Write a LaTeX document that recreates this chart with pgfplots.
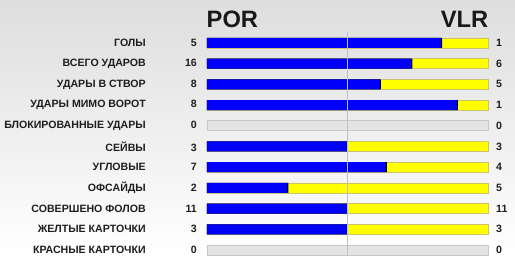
\documentclass[border=0pt]{standalone}
\usepackage{pgfplots}
\usepackage{pgfplotstable}
\pgfplotsset{compat=1.18}
\usepackage{fontspec}
\setmainfont{Liberation Sans}
\definecolor{barblue}{RGB}{0,0,250}
\definecolor{baryellow}{RGB}{255,255,0}
\definecolor{yelborder}{RGB}{205,195,110}
\definecolor{grayfill}{RGB}{228,228,228}
\definecolor{grayborder}{RGB}{200,200,200}
\definecolor{midline}{RGB}{185,192,204}
\definecolor{txt}{RGB}{30,30,30}

% row  por vlr  blue  black  yellow gray
\pgfplotstableread{
row por vlr blue  black yellow gray
0   5   1   0.833 0.837 1   nan
1   16  6   0.727 0.731 1   nan
2   8   5   0.615 0.619 1   nan
3   8   1   0.889 0.893 1   nan
4   0   0   nan   nan   nan 1
5   3   3   0.5   0.5   1   nan
6   7   4   0.636 0.640 1   nan
7   2   5   0.286 0.290 1   nan
8   11  11  0.5   0.5   1   nan
9   3   3   0.5   0.5   1   nan
10  0   0   nan   nan   nan 1
}\stats

\begin{document}
\begin{tikzpicture}[x=1pt,y=1pt]
\fill[top color=black!13, bottom color=white] (0,0) rectangle (515,256);
\pgfplotsset{
  common/.style={
    at={(207pt,0.85pt)}, anchor=south west,
    scale only axis, width=281pt, height=222.5pt,
    xmin=0, xmax=1, ymin=-0.5, ymax=10.25, y dir=reverse,
    axis line style={draw=none}, major tick length=0pt,
    xtick=\empty, ytick={0,...,10},
    clip=false,
    yticklabel style={font=\bfseries\fontsize{10.6}{12}\selectfont, text=txt, inner sep=0pt},
  }
}
\begin{axis}[common,
  xbar, bar width=10pt, bar shift=0pt,
  unbounded coords=discard,
  yticklabel style={anchor=east, xshift=-10pt},
  yticklabels={
    {ГОЛЫ\hspace*{51pt}\llap{5}},
    {ВСЕГО УДАРОВ\hspace*{51pt}\llap{16}},
    {УДАРЫ В СТВОР\hspace*{51pt}\llap{8}},
    {УДАРЫ МИМО ВОРОТ\hspace*{51pt}\llap{8}},
    {БЛОКИРОВАННЫЕ УДАРЫ\hspace*{51pt}\llap{0}},
    {СЕЙВЫ\hspace*{51pt}\llap{3}},
    {УГЛОВЫЕ\hspace*{51pt}\llap{7}},
    {ОФСАЙДЫ\hspace*{51pt}\llap{2}},
    {СОВЕРШЕНО ФОЛОВ\hspace*{51pt}\llap{11}},
    {ЖЕЛТЫЕ КАРТОЧКИ\hspace*{51pt}\llap{3}},
    {КРАСНЫЕ КАРТОЧКИ\hspace*{51pt}\llap{0}}},
]
\addplot[fill=baryellow, draw=yelborder, line width=0.6pt] table[x=yellow, y=row] {\stats};
\addplot[fill=grayfill, draw=grayborder, line width=0.6pt] table[x=gray, y=row] {\stats};
\addplot[fill=black, draw=none] table[x=black, y=row] {\stats};
\addplot[fill=barblue, draw=none] table[x=blue, y=row] {\stats};
\draw[midline, line width=0.8pt] (axis cs:0.5,-0.53) -- (axis cs:0.5,10.4);
\end{axis}
\begin{axis}[common,
  yticklabel pos=right,
  yticklabel style={anchor=west, xshift=8pt},
  yticklabels={1,6,5,1,0,3,4,5,11,3,0},
]
\addplot[draw=none] coordinates {(0,0)};
\end{axis}
\node[anchor=base west, inner sep=0pt, text=black!90, font=\bfseries\fontsize{23.7}{26}\selectfont] at (206.5,228) {POR};
\node[anchor=base east, inner sep=0pt, text=black!90, font=\bfseries\fontsize{23.7}{26}\selectfont] at (488.5,228) {VLR};
\pgfresetboundingbox
\useasboundingbox (0,0) rectangle (515,256);
\end{tikzpicture}
\end{document}
